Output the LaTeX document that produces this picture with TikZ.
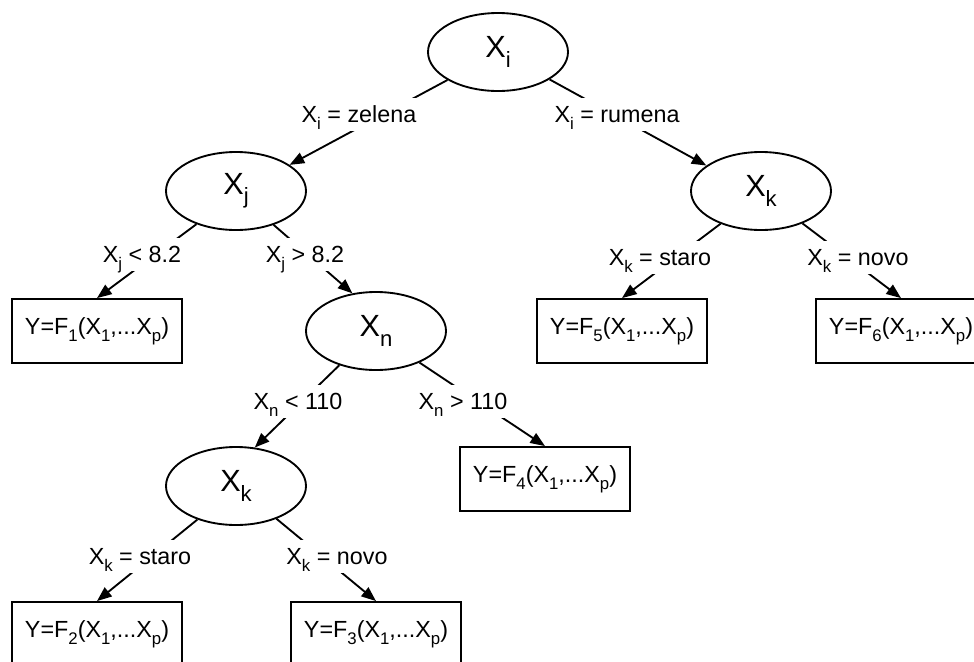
\documentclass[tikz,border=0pt]{standalone}
\usepackage{fontspec}
\setmainfont{Liberation Sans}
\usetikzlibrary{shapes.geometric,arrows.meta}

% lowered, smaller index after a variable name
\newcommand{\lowidx}[1]{\raisebox{-0.3em}{\scalebox{0.72}{#1}}}

\tikzset{every picture/.style={line width=1.4pt}}

\begin{document}
\begin{tikzpicture}[x=0.75pt,y=0.75pt,yscale=-1,xscale=1,
    test/.style={draw, ellipse, minimum width=105pt, minimum height=58.5pt, inner sep=0pt, font=\fontsize{23}{26}\selectfont},
    leaf/.style={draw, rectangle, minimum width=128pt, minimum height=48pt, inner sep=0pt, font=\fontsize{17.5}{20}\selectfont},
    cond/.style={anchor=base, fill=white, inner xsep=2pt, inner ysep=1.5pt, text height=16.5pt, text depth=5.25pt, font=\fontsize{17.5}{20}\selectfont},
    toleaf/.style={-{Triangle[length=11pt,width=8.5pt]}}]
    \clip (0,0) rectangle (974,661);

    %Ellipses: split tests
    \node [test] (xi) at (498,52) {X\lowidx{i}};
    \node [test] (xj) at (236,191) {X\lowidx{j}};
    \node [test] (xkr) at (761,191) {X\lowidx{k}};
    \node [test] (xn) at (376,331) {X\lowidx{n}};
    \node [test] (xkl) at (236,486) {X\lowidx{k}};

    %Rectangles: leaf models
    \node [leaf] (f1) at (97,331) {Y=F\lowidx{1}(X\lowidx{1},...X\lowidx{p})};
    \node [leaf] (f5) at (622,331) {Y=F\lowidx{5}(X\lowidx{1},...X\lowidx{p})};
    \node [leaf] (f6) at (901,331) {Y=F\lowidx{6}(X\lowidx{1},...X\lowidx{p})};
    \node [leaf] (f4) at (545,479) {Y=F\lowidx{4}(X\lowidx{1},...X\lowidx{p})};
    \node [leaf] (f2) at (97,634) {Y=F\lowidx{2}(X\lowidx{1},...X\lowidx{p})};
    \node [leaf] (f3) at (376,634) {Y=F\lowidx{3}(X\lowidx{1},...X\lowidx{p})};

    %Straight Lines: one per branch, the condition text sits on top
    \draw [toleaf] (xi.209) -- (xj.26);
    \draw [toleaf] (xi.332) -- (xkr.155);
    \draw [toleaf] (xj.220) -- (f1.north);
    \draw [toleaf] (xj.318) -- (xn.122);
    \draw [toleaf] (xkr.219) -- (f5.north);
    \draw [toleaf] (xkr.322) -- (f6.north);
    \draw [toleaf] (xn.223) -- (xkl.64);
    \draw [toleaf] (xn.324) -- (f4.north);
    \draw [toleaf] (xkl.221) -- (f2.north);
    \draw [toleaf] (xkl.321) -- (f3.north);

    % Text Nodes: branch conditions
    \node [cond] (ci1) at (359,122) {X\lowidx{i} = zelena};
    \node [cond] (ci2) at (617,122) {X\lowidx{i} = rumena};
    \node [cond] (cj1) at (142,262) {X\lowidx{j} < 8.2};
    \node [cond] (cj2) at (305,262) {X\lowidx{j} > 8.2};
    \node [cond] (ckr1) at (660,265) {X\lowidx{k} = staro};
    \node [cond] (ckr2) at (858,265) {X\lowidx{k} = novo};
    \node [cond] (cn1) at (298,409) {X\lowidx{n} < 110};
    \node [cond] (cn2) at (463,409) {X\lowidx{n} > 110};
    \node [cond] (ckl1) at (140,564) {X\lowidx{k} = staro};
    \node [cond] (ckl2) at (337,564) {X\lowidx{k} = novo};

\end{tikzpicture}
\end{document}
